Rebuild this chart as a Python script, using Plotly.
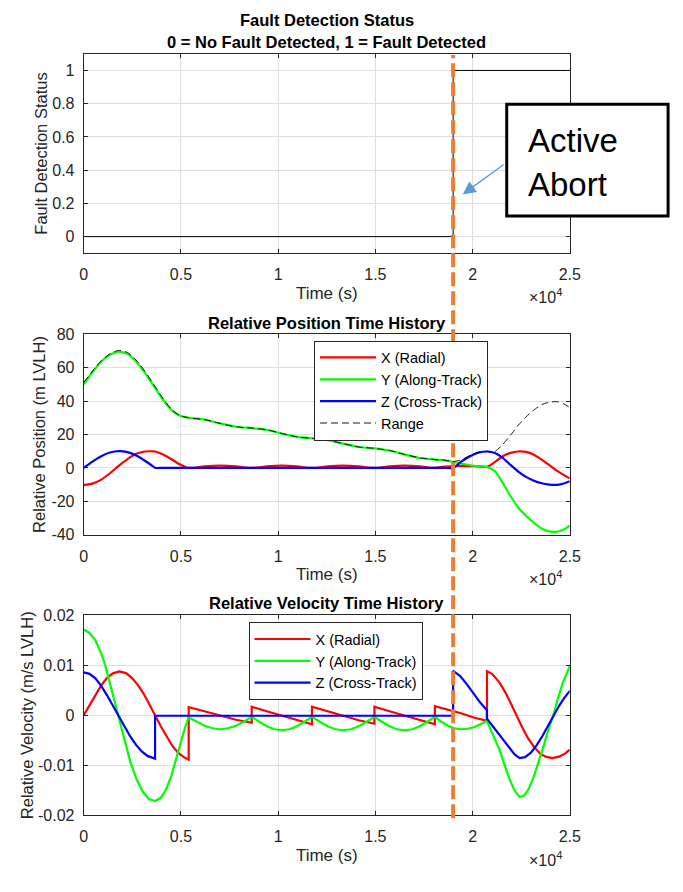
import plotly.graph_objects as go

# ---------------- data ----------------
time_tick_vals = [0, 5000, 10000, 15000, 20000, 25000]
time_tick_text = ["0", "0.5", "1", "1.5", "2", "2.5"]

status_tick_vals = [0, 0.2, 0.4, 0.6, 0.8, 1]
status_tick_text = ["0", "0.2", "0.4", "0.6", "0.8", "1"]
pos_tick_vals = [-40, -20, 0, 20, 40, 60, 80]
pos_tick_text = ["-40", "-20", "0", "20", "40", "60", "80"]
vel_tick_vals = [-0.02, -0.01, 0, 0.01, 0.02]
vel_tick_text = ["-0.02", "-0.01", "0", "0.01", "0.02"]

abort_time = 19000

status_t = [0, 19000, 19000, 25000]
status_val = [0, 0, 1, 1]

pos_t = [0, 450, 900, 1350, 1800, 2250, 2700, 3150, 3600, 3670, 4050, 4500, 4950, 5400,
         6210, 7020, 7830, 8640,
         9415, 10190, 10965, 11740,
         12543, 13345, 14148, 14950,
         15728, 16505, 17283, 18060,
         18530, 19000, 19435, 19870, 20305, 20740,
         21150, 21550, 21950, 22350, 22750, 23150, 23550, 23950, 24350, 24700, 25000]
pos_x = [-10.3, -9.4, -7.0, -3.2, 1.2, 5.3, 8.4, 9.8, 9.9, 9.8, 8.1, 5.3, 2.0, 0.0,
         0.9, 1.3, 0.9, 0.0,
         0.9, 1.3, 0.9, 0.0,
         0.9, 1.3, 0.9, 0.0,
         0.9, 1.3, 0.9, 0.0,
         0.8, 1.1, 1.2, 1.1, 0.9, 0.6,
         3.5, 7.0, 9.0, 9.8, 9.6, 7.9, 5.0, 1.6, -1.8, -4.3, -6.2]
pos_y = [50.0, 57.2, 63.6, 67.6, 69.6, 68.2, 63.5, 56.8, 49.0, 47.8, 41.2, 34.8, 31.2, 30.0,
         28.9, 26.6, 24.6, 23.8,
         22.8, 20.6, 18.6, 17.7,
         16.6, 14.5, 12.5, 11.7,
         10.4, 8.0, 5.9, 5.0,
         4.6, 3.6, 2.6, 1.6, 1.0, 0.6,
         -2.0, -9.0, -16.8, -23.8, -28.6, -32.8, -36.2, -38.0, -38.2, -36.8, -34.6]
pos_z = [0.0, 3.8, 7.0, 9.2, 10.0, 9.4, 7.4, 4.3, 0.6, 0.0, 0.0, 0.0, 0.0, 0.0,
         0.0, 0.0, 0.0, 0.0,
         0.0, 0.0, 0.0, 0.0,
         0.0, 0.0, 0.0, 0.0,
         0.0, 0.0, 0.0, 0.0,
         0.0, 0.0, 3.9, 7.0, 9.1, 9.8,
         8.9, 6.0, 1.8, -2.2, -5.4, -7.7, -9.2, -10.0, -10.1, -9.3, -8.0]
pos_range = [51.0, 58.0, 64.0, 68.3, 70.3, 69.0, 64.5, 57.8, 50.0, 48.8, 42.0, 35.2, 31.3, 30.0,
             28.9, 26.6, 24.6, 23.8,
             22.8, 20.6, 18.6, 17.7,
             16.6, 14.5, 12.5, 11.7,
             10.4, 8.1, 6.0, 5.0,
             4.7, 3.8, 4.9, 7.5, 9.4, 9.9,
             9.9, 14.0, 19.5, 25.5, 30.5, 34.6, 37.8, 39.3, 39.6, 38.2, 36.1]

vx_t = [0, 300, 600, 900, 1200, 1500, 1845, 2200, 2500, 2800, 3100, 3400, 3670, 3950, 4250, 4550, 4850, 5150, 5400,
        5400, 6210, 7020, 7830, 8640,
        8640, 9415, 10190, 10965, 11740,
        11740, 12543, 13345, 14148, 14950,
        14950, 15728, 16505, 17283, 18060,
        18060, 18700, 19400, 20100, 20740,
        20740, 21000, 21380, 21700, 22000, 22250, 22550, 22850, 23150, 23450, 23750, 24100, 24450, 24750, 25000]
vx = [0.0, 0.0021, 0.0041, 0.0060, 0.0075, 0.0084, 0.0088, 0.0084, 0.0074, 0.0060, 0.0042, 0.0021, 0.0000,
      -0.0021, -0.0042, -0.0061, -0.0075, -0.0084, -0.0089,
      0.0016, 0.0008, -0.0001, -0.0009, -0.0015,
      0.0017, 0.0008, -0.0001, -0.0010, -0.0018,
      0.0017, 0.0008, -0.0001, -0.0010, -0.0017,
      0.0017, 0.0008, -0.0001, -0.0010, -0.0018,
      0.0018, 0.0012, 0.0004, -0.0005, -0.0011,
      0.0088, 0.0083, 0.0066, 0.0045, 0.0021, 0.0000, -0.0024, -0.0046, -0.0063, -0.0076, -0.0083, -0.0086,
      -0.0083, -0.0077, -0.0069]

vy_t = [0, 300, 600, 900, 1100, 1400, 1770, 2100, 2400, 2700, 3050, 3350, 3670, 3950, 4225, 4500, 4730, 5000, 5200, 5400,
        5805, 6210, 6615, 7020, 7425, 7830, 8235, 8640,
        9028, 9415, 9803, 10190, 10578, 10965, 11353, 11740,
        12141, 12543, 12944, 13345, 13746, 14148, 14549, 14950,
        15339, 15728, 16116, 16505, 16894, 17283, 17671, 18060,
        18395, 18730, 19065, 19400, 19735, 20070, 20405, 20740,
        21000, 21380, 21650, 21880, 22150, 22420, 22650, 22880, 23150, 23390, 23650, 23890, 24150, 24400, 24650, 25000]
vy = [0.0172, 0.0165, 0.0150, 0.0124, 0.0101, 0.0057, 0.0000, -0.0050, -0.0094, -0.0127, -0.0154, -0.0168, -0.0172,
      -0.0166, -0.0150, -0.0122, -0.0090, -0.0052, -0.0026, -0.0004,
      -0.0013, -0.0021, -0.0026, -0.0028, -0.0026, -0.0021, -0.0013, -0.0003,
      -0.0013, -0.0022, -0.0028, -0.0030, -0.0028, -0.0022, -0.0013, -0.0003,
      -0.0013, -0.0022, -0.0028, -0.0030, -0.0028, -0.0022, -0.0013, -0.0003,
      -0.0013, -0.0022, -0.0028, -0.0030, -0.0028, -0.0022, -0.0013, -0.0003,
      -0.0013, -0.0021, -0.0026, -0.0028, -0.0027, -0.0024, -0.0018, -0.0011,
      -0.0035, -0.0069, -0.0100, -0.0126, -0.0150, -0.0164, -0.0161, -0.0148, -0.0123, -0.0095, -0.0062,
      -0.0030, 0.0000, 0.0035, 0.0066, 0.0099]

vz_t = [0, 300, 600, 900, 1200, 1500, 1800, 2100, 2400, 2700, 3000, 3300, 3670,
        3670, 19000,
        19000, 19350, 19710, 20050, 20380, 20740,
        20740, 21000, 21380, 21650, 21880, 22150, 22420, 22700, 23000, 23300, 23600, 23900, 24150, 24450, 24700, 25000]
vz = [0.0086, 0.0083, 0.0074, 0.0059, 0.0040, 0.0019, -0.0002, -0.0023, -0.0043, -0.0060, -0.0073, -0.0082, -0.0087,
      -0.0001, -0.0001,
      0.0089, 0.0079, 0.0062, 0.0043, 0.0026, 0.0010,
      -0.0007, -0.0020, -0.0039, -0.0054, -0.0066, -0.0078, -0.0086, -0.0084, -0.0075, -0.0060, -0.0041,
      -0.0019, 0.0000, 0.0019, 0.0034, 0.0049]

# ---------------- figure ----------------
W, H = 683, 892
FONT = "Liberation Sans, Arial, Helvetica, sans-serif"
AX_COL = "#262626"
GRID_COL = "#dedede"


def fx(p):
    return p / W


def fy(p):
    return 1 - p / H


X_DOM = [fx(81.5), fx(578.5)]

fig = go.Figure()

fig.add_trace(go.Scatter(x=status_t, y=status_val, mode="lines",
                         line=dict(color="black", width=1),
                         showlegend=False, xaxis="x", yaxis="y"))

pos_series = [("X (Radial)", pos_x, "#ff0000"),
              ("Y (Along-Track)", pos_y, "#00ff00"),
              ("Z (Cross-Track)", pos_z, "#0000ff")]
for name, vals, col in pos_series:
    fig.add_trace(go.Scatter(x=pos_t, y=vals, mode="lines", name=name,
                             line=dict(color=col, width=2.2, shape="spline", smoothing=0.6),
                             xaxis="x2", yaxis="y2", legend="legend"))
fig.add_trace(go.Scatter(x=pos_t, y=pos_range, mode="lines", name="Range",
                         line=dict(color="black", width=0.9, dash="7px,4px", shape="spline", smoothing=0.6),
                         xaxis="x2", yaxis="y2", legend="legend"))

vel_series = [("X (Radial)", vx_t, vx, "#ff0000"),
              ("Y (Along-Track)", vy_t, vy, "#00ff00"),
              ("Z (Cross-Track)", vz_t, vz, "#0000ff")]
for name, tt, vals, col in vel_series:
    fig.add_trace(go.Scatter(x=tt, y=vals, mode="lines", name=name,
                             line=dict(color=col, width=2.2),
                             xaxis="x3", yaxis="y3", legend="legend2"))

axis_common = dict(showline=True, linecolor=AX_COL, linewidth=1, mirror="ticks",
                   showgrid=True, gridcolor=GRID_COL, gridwidth=1, zeroline=False,
                   ticks="inside", ticklen=4, tickcolor=AX_COL,
                   tickfont=dict(family=FONT, size=16, color=AX_COL))

xtitle = dict(text="Time (s)", standoff=4, font=dict(family=FONT, size=17, color=AX_COL))

xcommon = dict(axis_common, range=[0, 25000], tickmode="array",
               tickvals=time_tick_vals, ticktext=time_tick_text, domain=X_DOM,
               ticklabelstandoff=7, title=xtitle)


def ytitle(txt, standoff):
    return dict(text=txt, standoff=standoff, font=dict(family=FONT, size=16.5, color=AX_COL))


legend_common = dict(xanchor="left", yanchor="top", bgcolor="white", bordercolor=AX_COL,
                     borderwidth=1, itemwidth=56, tracegroupgap=0,
                     font=dict(family=FONT, size=14.5, color="black"))

fig.update_layout(
    width=W, height=H,
    margin=dict(l=0, r=0, t=0, b=0),
    paper_bgcolor="white", plot_bgcolor="white",
    font=dict(family=FONT, color=AX_COL),
    xaxis=dict(xcommon, anchor="y"),
    yaxis=dict(axis_common, anchor="x", domain=[fy(250), fy(46.7)], range=[-0.1, 1.1],
               tickmode="array", tickvals=status_tick_vals, ticktext=status_tick_text,
               ticklabelstandoff=5, title=ytitle("Fault Detection Status", 0)),
    xaxis2=dict(xcommon, anchor="y2"),
    yaxis2=dict(axis_common, anchor="x2", domain=[fy(537), fy(332.5)], range=[-40, 80],
                tickmode="array", tickvals=pos_tick_vals, ticktext=pos_tick_text,
                ticklabelstandoff=5, title=ytitle("Relative Position (m LVLH)", 1)),
    xaxis3=dict(xcommon, anchor="y3"),
    yaxis3=dict(axis_common, anchor="x3", domain=[fy(822.7), fy(619.3)], range=[-0.02, 0.02],
                tickmode="array", tickvals=vel_tick_vals, ticktext=vel_tick_text,
                ticklabelstandoff=5, title=ytitle("Relative Velocity (m/s LVLH)", 0)),
    legend=dict(legend_common, x=fx(317), y=fy(339)),
    legend2=dict(legend_common, x=fx(250), y=fy(626)),
)

ann = []
titles = [("<b>Fault Detection Status</b>", 12.7), ("<b>0 = No Fault Detected, 1 = Fault Detected</b>", 34.3),
          ("<b>Relative Position Time History</b>", 321), ("<b>Relative Velocity Time History</b>", 607)]
for txt, yy in titles:
    ann.append(dict(text=txt, x=fx(330), y=fy(yy), xref="paper", yref="paper",
                    xanchor="center", yanchor="middle", showarrow=False,
                    font=dict(family=FONT, size=16.5, color="black")))
for ye in [294, 581, 868]:
    ann.append(dict(text="×10<sup>4</sup>", x=fx(573), y=fy(ye), xref="paper", yref="paper",
                    xanchor="right", yanchor="middle", showarrow=False,
                    font=dict(family=FONT, size=16, color=AX_COL)))
ann.append(dict(text="Active", x=fx(534), y=fy(135), xref="paper", yref="paper",
                xanchor="left", yanchor="middle", showarrow=False,
                font=dict(family=FONT, size=33, color="black")))
ann.append(dict(text="Abort", x=fx(534), y=fy(180), xref="paper", yref="paper",
                xanchor="left", yanchor="middle", showarrow=False,
                font=dict(family=FONT, size=33, color="black")))
ann.append(dict(text=" ", x=fx(469), y=fy(190), xref="paper", yref="paper",
                ax=44, ay=-32, axref="pixel", ayref="pixel", showarrow=True,
                arrowhead=2, arrowsize=2, arrowwidth=1.3, arrowcolor="#5b9bd5"))

fig.update_layout(annotations=ann)

fig.update_layout(shapes=[
    dict(type="line", xref="x", yref="paper", x0=abort_time, x1=abort_time,
         y0=fy(826), y1=fy(48), line=dict(color="#ed7d31", width=4, dash="14px,5px"), layer="above"),
    dict(type="rect", xref="paper", yref="paper", x0=fx(514), x1=fx(679), y0=fy(212), y1=fy(98),
         line=dict(color="black", width=3), fillcolor="white", layer="above"),
])

fig.write_html("out.html", config={"displayModeBar": False},
               post_script="document.body.style.margin='0';document.body.style.overflow='hidden';")
